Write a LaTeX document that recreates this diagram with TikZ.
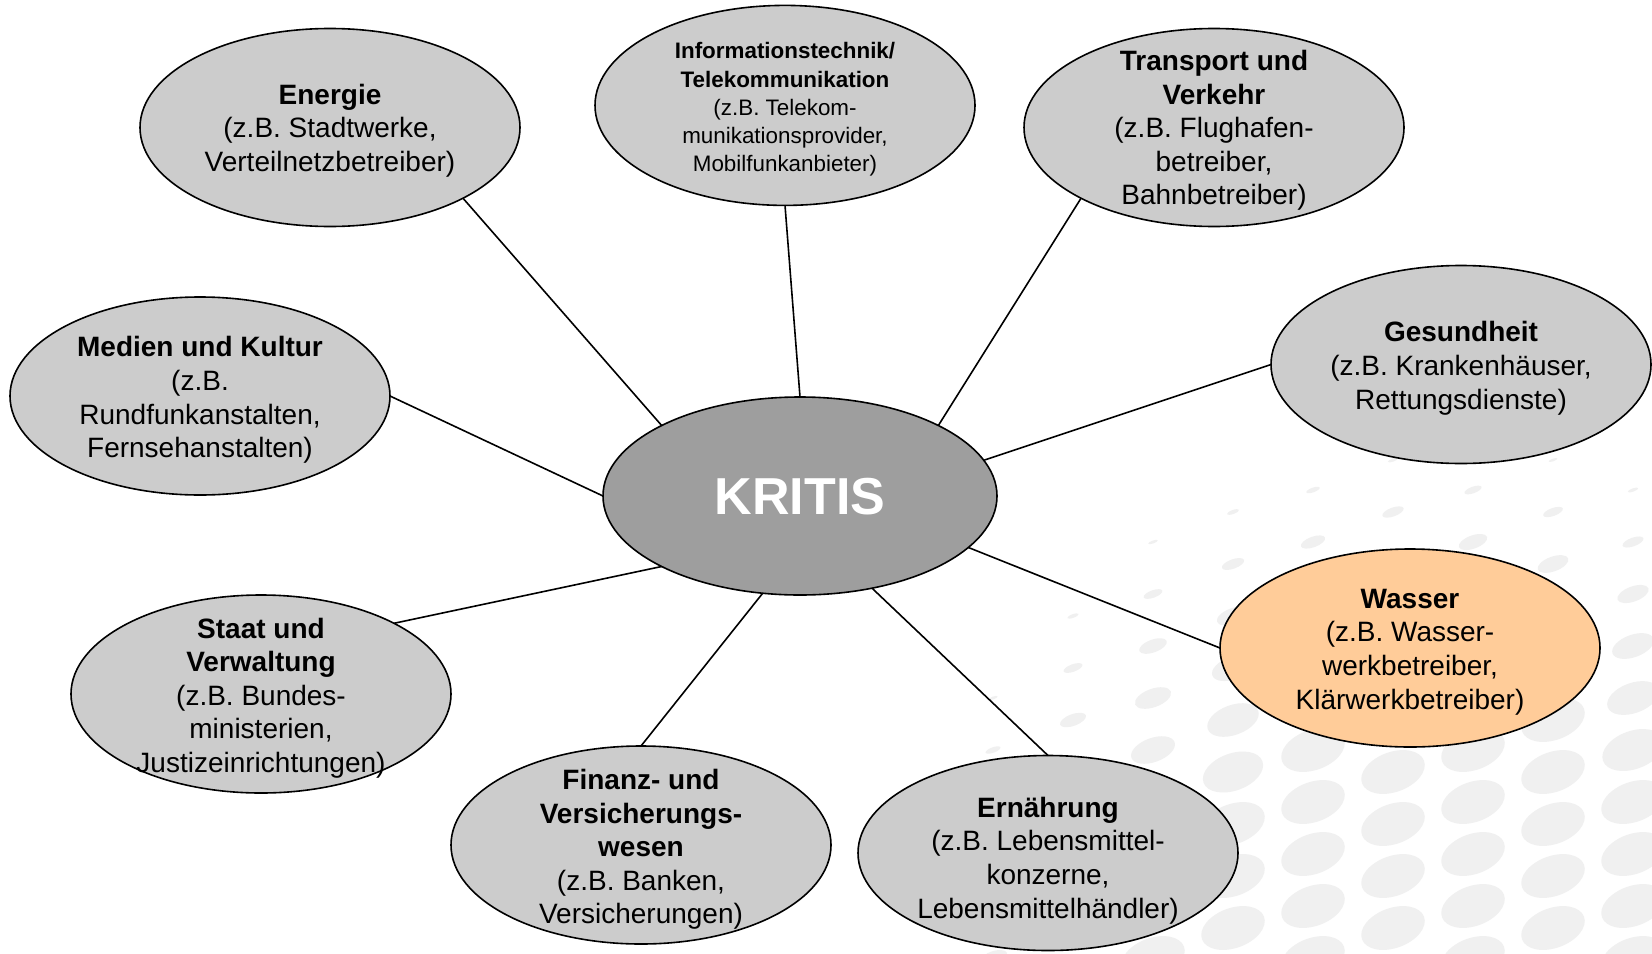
\documentclass[tikz,border=0pt]{standalone}
\usepackage{fontspec}
\setmainfont{Liberation Sans}
\usetikzlibrary{shapes.geometric}
\definecolor{ellgray}{RGB}{204,204,204}
\definecolor{kritisgray}{RGB}{158,158,158}
\definecolor{wasserfill}{RGB}{255,204,153}
\definecolor{dotc}{RGB}{240,240,240}
\tikzset{
  ell/.style={ellipse, draw=black, line width=0.8pt, fill=ellgray, inner sep=0pt, outer sep=0pt,
              minimum width=190pt, minimum height=99pt},
  txt/.style={align=center, inner sep=0pt, font=\fontsize{14}{16.8}\selectfont},
  smalltxt/.style={align=center, inner sep=0pt, font=\fontsize{11.2}{14.1}\selectfont},
  conn/.style={line width=0.8pt, draw=black}
}
\begin{document}
\begin{tikzpicture}[x=0.5pt,y=-0.5pt]
\useasboundingbox (0,0) rectangle (1652,953);
\fill[white] (0,0) rectangle (1652,953);
% background dot pattern
\foreach \k in {-4,...,4} {
  \foreach \m in {-7,...,4} {
    \pgfmathsetmacro\px{1313+80*\k}
    \pgfmathsetmacro\py{750+52*\m+22*mod(abs(\k),2)}
    \pgfmathsetmacro\dd{veclen(\px-1450,\py-1000)}
    \pgfmathsetmacro\s{max(0,min(1,(590-\dd)/290))}
    \pgfmathsetmacro\t{\s^1.4}
    \ifdim\s pt>0.12pt
      \fill[dotc,rotate around={20:(\px,\py)}] (\px,\py) ellipse ({33*\s} and {20*\t});
    \fi
  }
}
% ellipses
\node[ell] (energie) at (330,127.5) {};
\node[ell, minimum height=100pt] (it) at (785,105.4) {};
\node[ell] (transport) at (1214,127.5) {};
\node[ell] (gesund) at (1461,364.5) {};
\node[ell] (medien) at (200,396) {};
\node[ell, fill=kritisgray, minimum width=197pt] (kritis) at (800,496) {};
\node[ell, fill=wasserfill] (wasser) at (1410,648) {};
\node[ell] (staat) at (261,694) {};
\node[ell] (finanz) at (641,845) {};
\node[ell, minimum height=97.5pt] (ernaehrung) at (1048,853) {};
% connectors
\draw[conn] (energie.-28) -- (kritis.153);
\draw[conn] (it.-90) -- (kritis.90);
\draw[conn] (transport.-152) -- (kritis.27);
\draw[conn] (gesund.180) -- (kritis.11);
\draw[conn] (medien.0) -- (kritis.180);
\draw[conn] (wasser.180) -- (kritis.-17);
\draw[conn] (staat.28) -- (kritis.-153);
\draw[conn] (finanz.90) -- (kritis.-111);
\draw[conn] (ernaehrung.90) -- (kritis.-52);
% texts
\node[txt] (energie-t) at (330,130.5) {\textbf{Energie}\\(z.B. Stadtwerke,\\Verteilnetzbetreiber)};
\node[smalltxt] (it-t) at (785,109.5) {\textbf{Informationstechnik/}\\\textbf{Telekommunikation}\\(z.B. Telekom-\\munikationsprovider,\\Mobilfunkanbieter)};
\node[txt] (transport-t) at (1214,130.5) {\textbf{Transport und}\\\textbf{Verkehr}\\(z.B. Flughafen-\\betreiber,\\Bahnbetreiber)};
\node[txt] (gesund-t) at (1461,368.3) {\textbf{Gesundheit}\\(z.B. Krankenhäuser,\\Rettungsdienste)};
\node[txt] (medien-t) at (200,400) {\textbf{Medien und Kultur}\\(z.B.\\Rundfunkanstalten,\\Fernsehanstalten)};
\node[inner sep=0pt, text=white, font=\fontsize{26}{30}\selectfont\bfseries] (kritis-t) at (800,497) {KRITIS};
\node[txt] (wasser-t) at (1410,652) {\textbf{Wasser}\\(z.B. Wasser-\\werkbetreiber,\\Klärwerkbetreiber)};
\node[txt] (staat-t) at (261,698) {\textbf{Staat und}\\\textbf{Verwaltung}\\(z.B. Bundes-\\ministerien,\\Justizeinrichtungen)};
\node[txt] (finanz-t) at (641,849.5) {\textbf{Finanz- und}\\\textbf{Versicherungs-}\\\textbf{wesen}\\(z.B. Banken,\\Versicherungen)};
\node[txt] (ernaehrung-t) at (1048,860.5) {\textbf{Ernährung}\\(z.B. Lebensmittel-\\konzerne,\\Lebensmittelhändler)};
\end{tikzpicture}
\end{document}
